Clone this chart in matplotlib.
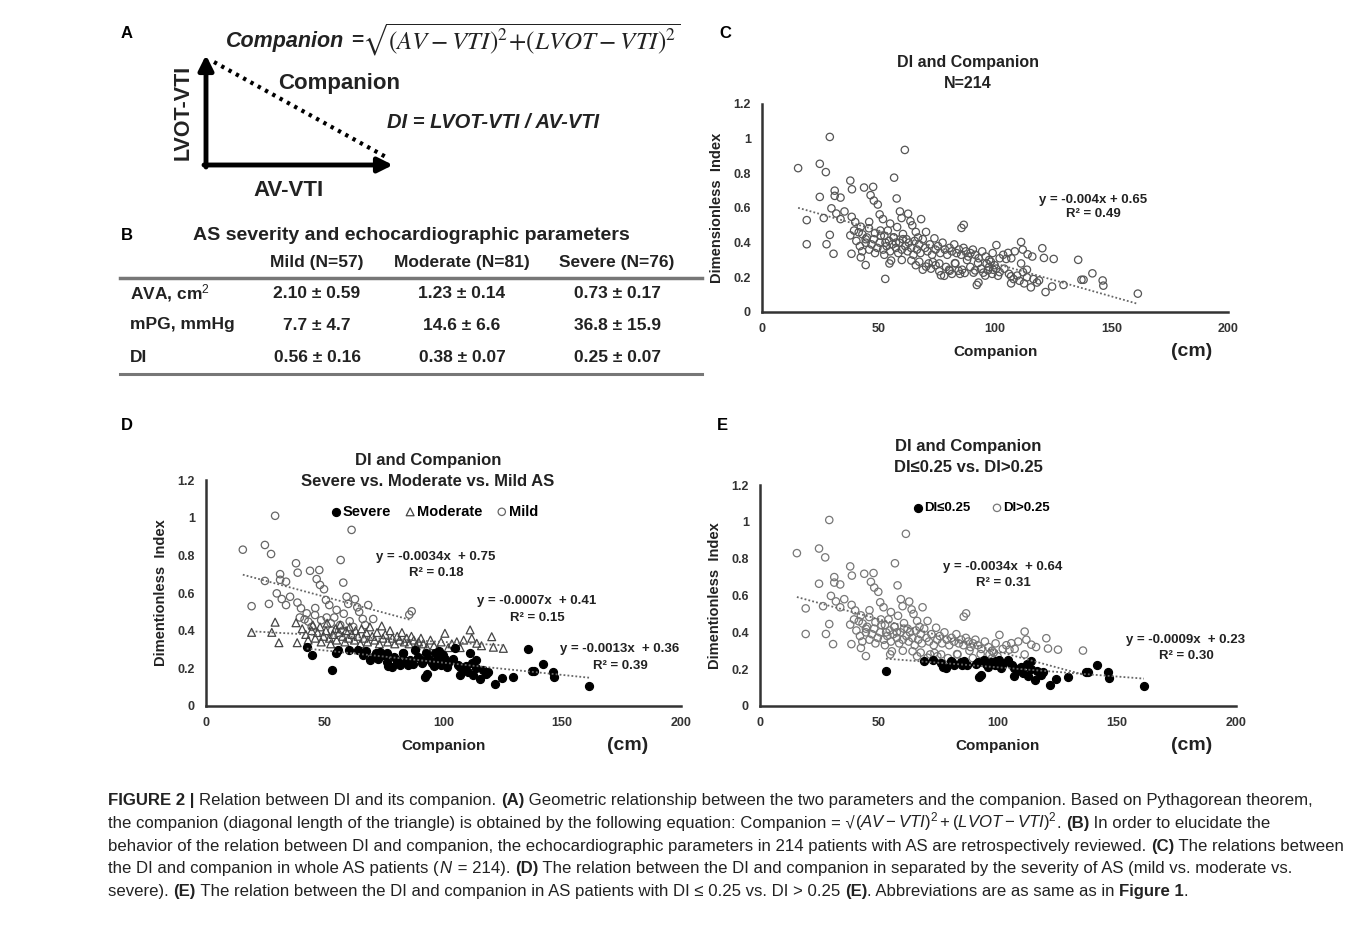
import numpy as np
import matplotlib
matplotlib.use('Agg')
import matplotlib.pyplot as plt
from matplotlib import font_manager

W, H = 1357, 926

# ---- data (companion in cm, DI) ----
severe_x = [42.4, 44.5, 52.9, 54.7, 55.4, 60.0, 64.1, 66.0, 67.5, 69.0,
            70.4, 71.5, 72.5, 73.3, 74.5, 76.1, 76.1, 76.8, 78.2, 79.0,
            80.3, 80.6, 81.5, 82.8, 83.0, 84.4, 85.0, 85.9, 87.0, 88.0,
            89.4, 90.8, 91.5, 92.2, 92.7, 92.9, 94.0, 95.0, 95.8, 96.4,
            97.0, 97.5, 98.2, 98.8, 99.2, 99.8, 100.5, 101.3, 102.0, 104.0,
            104.8, 106.0, 106.9, 106.9, 108.0, 109.5, 110.5, 111.2, 112.0, 112.5,
            113.7, 113.7, 115.4, 116.5, 118.0, 118.9, 121.7, 124.5, 129.4, 135.7,
            137.1, 138.0, 141.8, 146.2, 146.5, 161.3]
severe_y = [0.315, 0.271, 0.191, 0.28, 0.297, 0.30, 0.297, 0.27, 0.29, 0.244,
            0.262, 0.28, 0.25, 0.288, 0.27, 0.28, 0.235, 0.212, 0.209, 0.26,
            0.244, 0.238, 0.22, 0.282, 0.28, 0.238, 0.22, 0.244, 0.225, 0.30,
            0.26, 0.227, 0.24, 0.156, 0.282, 0.17, 0.25, 0.227, 0.21, 0.28,
            0.24, 0.26, 0.29, 0.22, 0.244, 0.27, 0.25, 0.209, 0.23, 0.25,
            0.306, 0.22, 0.206, 0.165, 0.19, 0.21, 0.18, 0.28, 0.23, 0.165,
            0.20, 0.244, 0.142, 0.19, 0.17, 0.182, 0.115, 0.147, 0.156, 0.301,
            0.186, 0.186, 0.223, 0.182, 0.152, 0.106]

moderate_x = [19.2, 27.7, 29.1, 30.7, 37.9, 38.4, 40.5, 42.0, 43.0, 44.5,
              45.0, 46.0, 47.0, 48.0, 48.5, 49.5, 50.5, 51.0, 52.0, 52.5,
              53.5, 54.5, 55.0, 56.0, 56.5, 57.5, 58.5, 59.0, 60.0, 60.5,
              61.5, 62.5, 63.0, 64.0, 65.0, 65.5, 66.5, 67.5, 68.0, 69.0,
              70.0, 71.0, 72.0, 73.0, 74.0, 74.5, 75.5, 76.5, 77.5, 78.5,
              79.5, 80.5, 81.5, 82.5, 83.5, 84.5, 85.5, 86.5, 87.5, 88.5,
              89.5, 90.5, 91.5, 93.0, 94.5, 96.0, 97.5, 99.0, 100.6, 102.0,
              103.5, 105.6, 107.0, 108.5, 111.2, 111.9, 114.0, 116.0, 120.3, 121.0,
              125.2]
moderate_y = [0.391, 0.391, 0.445, 0.336, 0.442, 0.336, 0.41, 0.38, 0.35, 0.40,
              0.43, 0.36, 0.39, 0.42, 0.34, 0.37, 0.40, 0.44, 0.36, 0.33,
              0.38, 0.41, 0.35, 0.39, 0.43, 0.37, 0.34, 0.40, 0.36, 0.42,
              0.38, 0.35, 0.40, 0.37, 0.33, 0.41, 0.36, 0.39, 0.34, 0.42,
              0.37, 0.35, 0.39, 0.33, 0.425, 0.36, 0.38, 0.34, 0.40, 0.36,
              0.33, 0.37, 0.35, 0.39, 0.34, 0.36, 0.33, 0.37, 0.35, 0.32,
              0.34, 0.36, 0.33, 0.31, 0.35, 0.32, 0.30, 0.34, 0.386, 0.31,
              0.33, 0.341, 0.31, 0.35, 0.404, 0.36, 0.333, 0.32, 0.368, 0.312,
              0.306]

mild_x = [15.5, 19.2, 24.8, 24.8, 26.5, 27.4, 29.1, 29.8, 31.2, 31.2,
          31.9, 33.7, 33.7, 35.4, 37.9, 38.6, 38.5, 40.0, 42.4, 43.8,
          43.1, 45.9, 46.6, 47.7, 48.0, 49.7, 50.5, 51.9, 55.0, 56.7,
          57.8, 59.2, 59.9, 61.3, 62.7, 63.7, 66.0, 68.3, 70.4, 85.6,
          86.6, 41.5, 44.5, 48.5, 50.8, 52.5, 54.0, 56.5, 58.0, 60.5,
          62.0, 64.5, 67.0, 46.0, 53.0, 39.5, 57.5]
mild_y = [0.83, 0.53, 0.855, 0.664, 0.542, 0.807, 1.01, 0.598, 0.70, 0.67,
          0.568, 0.66, 0.536, 0.58, 0.758, 0.708, 0.549, 0.519, 0.492, 0.718,
          0.448, 0.483, 0.674, 0.722, 0.643, 0.62, 0.563, 0.536, 0.51, 0.775,
          0.655, 0.58, 0.542, 0.935, 0.567, 0.524, 0.462, 0.536, 0.462, 0.485,
          0.503, 0.46, 0.42, 0.455, 0.47, 0.44, 0.47, 0.43, 0.49, 0.45,
          0.42, 0.50, 0.43, 0.52, 0.40, 0.47, 0.40]

di_cut = 0.25

# trend lines (slope, intercept) as drawn
fit_all = (-0.0038, 0.66)
fit_mild = (-0.0034, 0.75)
fit_moderate = (-0.0007, 0.41)
fit_severe = (-0.0013, 0.36)
fit_low = (-0.0010, 0.31)
fit_high = (-0.0035, 0.646)

x_ticks = [0, 50, 100, 150, 200]
y_ticks = [0, 0.2, 0.4, 0.6, 0.8, 1.0, 1.2]
y_tick_labels = ['0', '0.2', '0.4', '0.6', '0.8', '1', '1.2']

table_cols = ['Mild (N=57)', 'Moderate (N=81)', 'Severe (N=76)']
table_rows = ['AVA, cm$^2$', 'mPG, mmHg', 'DI']
table_vals = [['2.10 ± 0.59', '1.23 ± 0.14', '0.73 ± 0.17'],
              ['7.7 ± 4.7', '14.6 ± 6.6', '36.8 ± 15.9'],
              ['0.56 ± 0.16', '0.38 ± 0.07', '0.25 ± 0.07']]

plt.rcParams['font.family'] = ['Liberation Sans', 'DejaVu Sans']
plt.rcParams['mathtext.fontset'] = 'custom'
plt.rcParams['mathtext.rm'] = 'Liberation Sans'
plt.rcParams['mathtext.it'] = 'Liberation Sans:italic'
plt.rcParams['mathtext.bf'] = 'Liberation Sans:bold'

fig = plt.figure(figsize=(W / 100, H / 100), dpi=100)
ov = fig.add_axes([0, 0, 1, 1])
ov.set_xlim(0, W)
ov.set_ylim(H, 0)
ov.axis('off')

TXT = '#222222'


def px_axes(l, t, r, b):
    return fig.add_axes([l / W, 1 - b / H, (r - l) / W, (b - t) / H])


def setup(ax):
    ax.set_xlim(0, 200)
    ax.set_ylim(0, 1.2)
    for s in ['top', 'right']:
        ax.spines[s].set_visible(False)
    for s in ['left', 'bottom']:
        ax.spines[s].set_linewidth(1.8)
        ax.spines[s].set_color('#333333')
    ax.set_xticks(x_ticks)
    ax.set_yticks(y_ticks)
    ax.set_yticklabels(y_tick_labels)
    ax.tick_params(length=0, labelsize=9, pad=8, colors='#333333')
    for lab in ax.get_xticklabels() + ax.get_yticklabels():
        lab.set_fontweight('bold')
    ax.patch.set_alpha(0)


def trend(ax, xs, fit, **kw):
    x = np.array([min(xs), max(xs)])
    ax.plot(x, fit[0] * x + fit[1], ls=(0, (1, 1.2)), color='#666666', lw=1.3, **kw)


def label(x, y, s, size=11, **kw):
    ov.text(x, y, s, ha='center', va='center', fontsize=size,
            fontweight='bold', color=TXT, **kw)


all_x = np.array(severe_x + moderate_x + mild_x)
all_y = np.array(severe_y + moderate_y + mild_y)

# ---- panel letters ----
for lt, (x, y) in zip('ABCDE', [(127, 33), (127, 235), (725, 33), (127, 425), (722, 425)]):
    ov.text(x, y, lt, ha='center', va='center', fontsize=12, fontweight='bold', color='k')

# ---- panel A ----
ov.annotate('', xy=(206, 55), xytext=(206, 167),
            arrowprops=dict(arrowstyle='-|>', lw=3.5, color='k', mutation_scale=22,
                            shrinkA=0, shrinkB=0))
ov.annotate('', xy=(393, 165), xytext=(204, 165),
            arrowprops=dict(arrowstyle='-|>', lw=3.5, color='k', mutation_scale=22,
                            shrinkA=0, shrinkB=0))
ov.plot([214, 386], [62, 157], ls=(0, (0.8, 1.2)), lw=3, color='k')
ov.text(183, 112, 'LVOT-VTI', rotation=90, ha='center', va='center', fontsize=15.5,
        fontweight='bold', color=TXT)
ov.text(278, 84, 'Companion', ha='left', va='center', fontsize=16, fontweight='bold', color=TXT)
ov.text(387, 123, 'DI = LVOT-VTI / AV-VTI', ha='left', va='center', fontsize=14.5,
        fontweight='bold', style='italic', color=TXT)
ov.text(288, 190, 'AV-VTI', ha='center', va='center', fontsize=16, fontweight='bold', color=TXT)
ov.text(226, 41, 'Companion', ha='left', va='center', fontsize=15.5, fontweight='bold',
        style='italic', color=TXT)
ov.text(351, 41, '=', ha='left', va='center', fontsize=15, fontweight='bold', color=TXT)
ov.text(362, 40, r'$\sqrt{(AV-VTI)^2\!+\!(LVOT-VTI)^2}$', ha='left', va='center',
        fontsize=18, math_fontfamily='stix', color=TXT)

# ---- panel B (table) ----
label(411, 236, 'AS severity and echocardiographic parameters', size=14)
col_x = [317, 462, 617]
for cx, c in zip(col_x, table_cols):
    label(cx, 262, c, size=12.5)
ov.plot([120, 702], [278, 278], color='#777777', lw=2.5)
ov.plot([120, 702], [374, 374], color='#777777', lw=2.2)
row_y = [293, 325, 357]
for ry, r, vals in zip(row_y, table_rows, table_vals):
    ov.text(130, ry, r, ha='left', va='center', fontsize=12.5, fontweight='bold', color=TXT)
    for cx, v in zip(col_x, vals):
        label(cx, ry, v, size=12.5)

# ---- panel C ----
axc = px_axes(762, 104, 1228, 312)
setup(axc)
axc.scatter(all_x, all_y, s=28, facecolors='none', edgecolors='#555555', linewidths=0.9)
trend(axc, all_x, fit_all)
label(968, 63, 'DI and Companion', size=11.5)
label(968, 84, 'N=214', size=11.5)
label(717, 208, 'Dimensionless  Index', size=10.5, rotation=90)
label(996, 352, 'Companion', size=11)
label(1192, 352, '(cm)', size=14)
label(1093, 200, 'y = -0.004x + 0.65', size=9.5)
label(1093, 214, 'R² = 0.49', size=9.5)

# ---- panel D ----
axd = px_axes(206, 480, 681, 706)
setup(axd)
axd.scatter(mild_x, mild_y, s=28, facecolors='none', edgecolors='#666666', linewidths=0.9,
            label='Mild', zorder=2)
axd.scatter(moderate_x, moderate_y, s=32, marker='^', facecolors='none', edgecolors='#444444',
            linewidths=0.9, label='Moderate', zorder=3)
axd.scatter(severe_x, severe_y, s=32, color='black', label='Severe', zorder=4)
trend(axd, mild_x, fit_mild, zorder=5)
trend(axd, moderate_x, fit_moderate, zorder=5)
trend(axd, severe_x, fit_severe, zorder=5)
h, l = axd.get_legend_handles_labels()
axd.legend(h[::-1], l[::-1], ncol=3, frameon=False, loc='center',
           bbox_to_anchor=(0.48, 0.86), handletextpad=0.1, columnspacing=0.9,
           handlelength=0.8, prop=dict(weight='bold', size=10.5))
label(428, 460, 'DI and Companion', size=12)
label(428, 481, 'Severe vs. Moderate vs. Mild AS', size=12)
label(161, 593, 'Dimentionless  Index', size=10.5, rotation=90)
label(444, 746, 'Companion', size=11)
label(628, 746, '(cm)', size=14)
label(436, 557, 'y = -0.0034x  + 0.75', size=9.5)
label(436, 573, 'R² = 0.18', size=9.5)
label(537, 601, 'y = -0.0007x  + 0.41', size=9.5)
label(537, 618, 'R² = 0.15', size=9.5)
label(620, 649, 'y = -0.0013x  + 0.36', size=9.5)
label(620, 666, 'R² = 0.39', size=9.5)

# ---- panel E ----
axe = px_axes(760, 485, 1236, 706)
setup(axe)
low = all_y <= di_cut
axe.scatter(all_x[~low], all_y[~low], s=28, facecolors='none', edgecolors='#777777',
            linewidths=0.9, label='DI>0.25', zorder=2)
axe.scatter(all_x[low], all_y[low], s=32, color='black', label='DI≤0.25', zorder=3)
trend(axe, all_x[~low], fit_high, zorder=5)
trend(axe, all_x[low], fit_low, zorder=5)
h, l = axe.get_legend_handles_labels()
axe.legend(h[::-1], l[::-1], ncol=2, frameon=False, loc='center',
           bbox_to_anchor=(0.465, 0.895), handletextpad=0.05, columnspacing=1.6,
           handlelength=0.8, prop=dict(weight='bold', size=9.5))
label(968, 446, 'DI and Companion', size=12)
label(968, 467, 'DI≤0.25 vs. DI>0.25', size=12)
label(715, 596, 'Dimentionless  Index', size=10.5, rotation=90)
label(998, 746, 'Companion', size=11)
label(1192, 746, '(cm)', size=14)
label(1003, 567, 'y = -0.0034x  + 0.64', size=9.5)
label(1003, 583, 'R² = 0.31', size=9.5)
label(1186, 640, 'y = -0.0009x  + 0.23', size=9.5)
label(1186, 656, 'R² = 0.30', size=9.5)

# ---- caption ----
names = {f.name for f in font_manager.fontManager.ttflist}
cap_family = 'Liberation Sans Narrow' if 'Liberation Sans Narrow' in names else 'Liberation Sans'
N, B, M = 'normal', 'bold', 'math'
caption = [
    [('FIGURE 2 | ', B), ('Relation between DI and its companion. ', N), ('(A)', B),
     (' Geometric relationship between the two parameters and the companion. Based on Pythagorean theorem,', N)],
    [('the companion (diagonal length of the triangle) is obtained by the following equation: Companion = √', N),
     (r'$(AV - VTI)^2 + (LVOT - VTI)^2$', M), ('. ', N), ('(B)', B), (' In order to elucidate the', N)],
    [('behavior of the relation between DI and companion, the echocardiographic parameters in 214 patients with AS are retrospectively reviewed. ', N),
     ('(C)', B), (' The relations between', N)],
    [('the DI and companion in whole AS patients (', N), (r'$N$', M), (' = 214). ', N), ('(D)', B),
     (' The relation between the DI and companion in separated by the severity of AS (mild vs. moderate vs.', N)],
    [('severe). ', N), ('(E)', B), (' The relation between the DI and companion in AS patients with DI ≤ 0.25 vs. DI > 0.25 ', N),
     ('(E)', B), ('. Abbreviations are as same as in ', N), ('Figure 1', B), ('.', N)],
]
renderer = fig.canvas.get_renderer()


def width(s, kind, size):
    kw = dict(fontsize=size, family=cap_family, fontweight='bold' if kind == B else 'normal')
    if kind == M:
        t = ov.text(0, 0, s, **kw)
        w = t.get_window_extent(renderer).width
        t.remove()
        return w
    t1 = ov.text(0, 0, '|' + s + '|', **kw)
    t2 = ov.text(0, 0, '||', **kw)
    w = t1.get_window_extent(renderer).width - t2.get_window_extent(renderer).width
    t1.remove()
    t2.remove()
    return w


base = 10
w3 = sum(width(s, k, base) for s, k in caption[2])
cap_size = base * (1343 - 108) / w3
for i, line in enumerate(caption):
    x = 108
    yb = 805 + i * 22.8
    for s, k in line:
        ov.text(x, yb, s, ha='left', va='baseline', fontsize=cap_size, family=cap_family,
                fontweight='bold' if k == B else 'normal', color=TXT)
        x += width(s, k, cap_size)

fig.savefig('out.png', dpi=100)
